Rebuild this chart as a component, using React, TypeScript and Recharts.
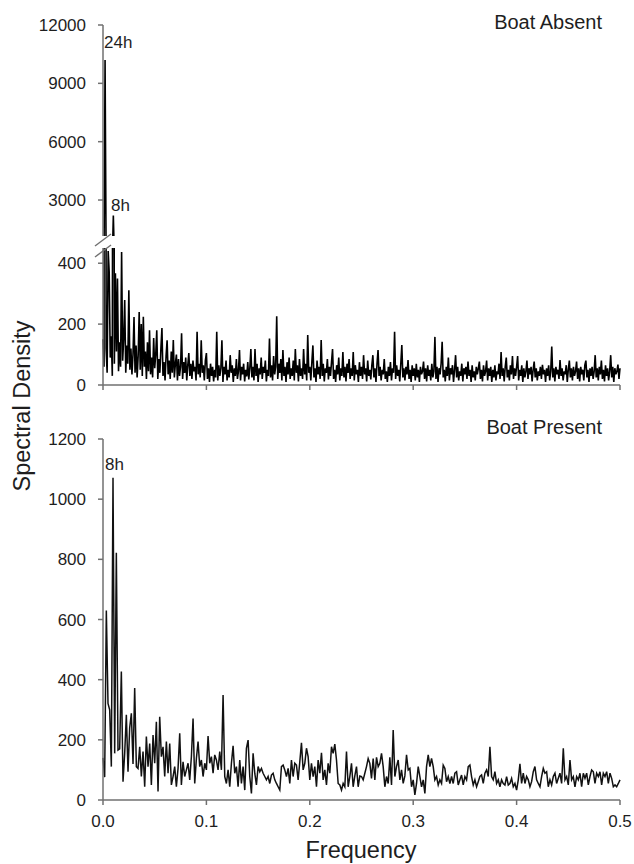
import { Line, LineChart, XAxis, YAxis } from "recharts";

// frequency grids (cycles per 5-min sample)
const ABSENT_STEP = 1 / 1000;
const PRESENT_STEP = 1 / 620;

// spectral density, boat absent
const absentDensity = [
  150, 60, 10200, 120, 40, 440, 371, 90, 160, 30, 2200, 70, 367, 110, 350, 45, 140, 60, 437, 80,
  150, 279, 40, 130, 70, 311, 50, 120, 35, 100,
  223, 40, 130, 25, 95, 240, 50, 200, 30, 224, 60, 110, 20, 140, 45, 180, 35, 90, 25, 154,
  55, 100, 180, 20, 85, 40, 120, 187, 30, 75, 15, 95, 147, 35, 80, 20, 110, 40, 148, 25,
  70, 100, 15, 85, 30, 60, 170, 20, 75, 40, 90, 15, 65, 105, 30, 70, 20, 80, 45, 60,
  15, 175, 35, 70, 25, 147, 40, 65, 15, 80,
  105, 20, 55, 10, 70, 30, 60, 12, 50, 25, 175, 15, 65, 30, 55, 147, 10, 60, 35, 80,
  15, 50, 25, 98, 40, 65, 10, 55, 30, 85, 20, 45, 115, 15, 60, 35, 70, 12, 50, 28,
  75, 18, 55, 118, 25, 60, 15, 118, 30, 70, 10, 55, 35, 90, 20, 60, 40, 80, 12, 50,
  30, 153, 25, 65, 15, 95, 35, 60, 226, 20, 70, 40, 85, 15, 115, 30, 60, 10, 75, 35,
  90, 20, 55, 30, 80, 15, 118, 40, 65, 12, 85, 30, 55, 20, 118, 35, 70, 15, 164, 40,
  60, 15, 75, 130, 25, 55, 10, 80, 35, 60, 20, 148, 30, 70, 12, 55, 40, 85, 18, 60,
  30, 75, 118, 20, 50, 10, 65, 35, 90, 15, 55, 30, 108, 25, 60, 12, 70, 40, 85, 20,
  55, 30, 108, 15, 65, 35, 50, 10, 75, 30, 60, 20, 98, 35, 55, 12, 80, 30, 50, 18,
  65, 98, 25, 55, 10, 70, 115, 30, 60, 15, 50, 35, 85, 20, 45, 10, 60, 30, 75, 15,
  55, 40, 175, 20, 65, 30, 50, 12, 70, 131, 25, 55, 15, 60, 35, 82, 20, 50, 10, 65,
  30, 55, 15, 70, 25, 50, 10, 60, 35, 45, 77, 20, 55, 12, 65, 30, 50, 15, 70, 25,
  45, 158, 20, 60, 10, 55, 35, 70, 142, 25, 50, 12, 60, 30, 90, 15, 55, 35, 65, 10,
  50, 98, 25, 60, 15, 45, 30, 70, 12, 55, 35, 60, 20, 77, 30, 50, 10, 65, 25, 45,
  15, 60, 35, 55, 77, 20, 50, 12, 65, 30, 45, 80, 15, 55, 30, 60, 10, 50, 25, 65,
  15, 45, 35, 70, 20, 108, 30, 55, 12, 60, 90, 25, 50, 15, 65, 35, 95, 20, 55, 30,
  60, 95, 15, 50, 30, 65, 10, 55, 25, 45, 80, 20, 55, 35, 60, 12, 50, 77, 25, 55,
  15, 45, 30, 60, 20, 66, 35, 50, 10, 55, 30, 65, 15, 45, 126, 25, 55, 12, 60, 35,
  50, 20, 82, 30, 55, 15, 45, 35, 65, 10, 50, 80, 25, 55, 15, 60, 30, 45, 77, 20,
  55, 12, 60, 35, 50, 15, 65, 80, 25, 50, 10, 55, 30, 60, 20, 45, 98, 25, 55, 15,
  60, 35, 80, 20, 50, 12, 65, 30, 55, 15, 45, 98, 25, 60, 10, 55, 35, 45, 67, 20,
  55,
];

// spectral density, boat present
const presentDensity = [
  140, 76, 630, 321, 300, 111, 1071, 155, 822, 166, 170, 427, 61, 155, 283, 94, 240, 288, 120, 372,
  111, 105, 177, 78, 161, 44, 211, 111, 188, 50, 216, 122, 260, 28, 277, 144, 177, 78, 194, 89,
  188, 50, 78, 111, 44, 105, 222, 50, 127, 78, 100, 122, 67, 144, 271, 55, 138, 194, 111, 133,
  78, 122, 100, 213, 122, 144, 89, 150, 133, 100, 161, 100, 349, 78, 55, 100, 44, 122, 180, 89,
  111, 44, 133, 55, 111, 33, 172, 199, 78, 22, 155, 89, 50, 111, 94, 105, 89, 78, 67, 78,
  55, 83, 89, 67, 55, 44, 33, 111, 116, 100, 78, 105, 55, 133, 78, 122, 116, 67, 127, 190,
  100, 122, 172, 144, 67, 122, 78, 111, 44, 133, 89, 157, 67, 100, 50, 122, 89, 177, 155, 186,
  133, 55, 50, 33, 55, 44, 161, 44, 78, 122, 44, 80, 111, 44, 80, 78, 67, 89, 111, 138,
  122, 72, 138, 67, 142, 111, 122, 155, 111, 44, 78, 55, 142, 50, 233, 78, 111, 133, 67, 100,
  55, 80, 150, 100, 105, 44, 67, 17, 55, 111, 78, 44, 67, 22, 111, 150, 111, 138, 111, 67,
  78, 50, 67, 55, 116, 105, 61, 78, 55, 78, 55, 89, 94, 50, 67, 83, 50, 78, 67, 111,
  116, 78, 50, 67, 44, 61, 78, 83, 55, 89, 100, 78, 177, 78, 67, 94, 55, 67, 44, 67,
  55, 50, 78, 50, 55, 72, 44, 55, 33, 67, 120, 55, 89, 55, 78, 67, 44, 61, 94, 111,
  67, 55, 44, 78, 105, 89, 94, 44, 67, 50, 78, 89, 55, 72, 89, 55, 172, 67, 78, 50,
  133, 67, 78, 44, 78, 67, 89, 44, 89, 72, 89, 50, 78, 100, 94, 55, 89, 78, 94, 50,
  89, 78, 94, 55, 89, 72, 44, 50, 44, 55, 67,
];

const freqTicks = [0, 0.1, 0.2, 0.3, 0.4, 0.5];
const absentHighTicks = [3000, 6000, 9000, 12000];
const absentLowTicks = [0, 200, 400];
const presentTicks = [0, 200, 400, 600, 800, 1000, 1200];

const absentData = absentDensity.map((v, i) => ({ f: i * ABSENT_STEP, v }));
const presentData = presentDensity.map((v, i) => ({ f: i * PRESENT_STEP, v }));

const FONT = "'Liberation Sans', Arial, Helvetica, sans-serif";
const AXIS = "#707070";
const INK = "#1e1e1e";
const tickStyle = { fill: INK, fontSize: 17, fontFamily: FONT };
const axisLine = { stroke: AXIS, strokeWidth: 1.5 };

export default function App() {
  return (
    <div style={{ position: "absolute", left: 0, top: 0, width: 634, height: 864, background: "#fff" }}>
      {/* boat absent, upper segment of the broken axis */}
      <div style={{ position: "absolute", left: 0, top: 0 }}>
        <LineChart width={634} height={240} data={absentData} margin={{ top: 25, right: 14, bottom: 4, left: 0 }}>
          <XAxis type="number" dataKey="f" domain={[0, 0.5]} hide />
          <YAxis
            type="number"
            domain={[1150, 12000]}
            ticks={absentHighTicks}
            interval={0}
            allowDataOverflow
            width={103}
            tickSize={5}
            tickMargin={12}
            tick={tickStyle}
            axisLine={axisLine}
            tickLine={axisLine}
          />
          <Line type="linear" dataKey="v" stroke="#000" strokeWidth={1.6} dot={false} isAnimationActive={false} />
        </LineChart>
      </div>

      {/* boat absent, lower segment */}
      <div style={{ position: "absolute", left: 0, top: 240 }}>
        <LineChart width={634} height={160} data={absentData} margin={{ top: 8, right: 14, bottom: 5, left: 0 }}>
          <XAxis
            type="number"
            dataKey="f"
            domain={[0, 0.5]}
            ticks={freqTicks}
            interval={0}
            height={10}
            tickSize={5}
            tickFormatter={() => ""}
            axisLine={axisLine}
            tickLine={axisLine}
          />
          <YAxis
            type="number"
            domain={[0, 450]}
            ticks={absentLowTicks}
            interval={0}
            allowDataOverflow
            width={103}
            tickSize={5}
            tickMargin={12}
            tick={tickStyle}
            axisLine={axisLine}
            tickLine={axisLine}
          />
          <Line type="linear" dataKey="v" stroke="#000" strokeWidth={1.6} dot={false} isAnimationActive={false} />
        </LineChart>
      </div>

      {/* boat present */}
      <div style={{ position: "absolute", left: 0, top: 420 }}>
        <LineChart width={634} height={424} data={presentData} margin={{ top: 19, right: 14, bottom: 14, left: 0 }}>
          <XAxis
            type="number"
            dataKey="f"
            domain={[0, 0.5]}
            ticks={freqTicks}
            interval={0}
            height={30}
            tickSize={5}
            tickMargin={10}
            tick={tickStyle}
            tickFormatter={(v: number) => v.toFixed(1)}
            axisLine={axisLine}
            tickLine={axisLine}
          />
          <YAxis
            type="number"
            domain={[0, 1200]}
            ticks={presentTicks}
            interval={0}
            width={103}
            tickSize={5}
            tickMargin={12}
            tick={tickStyle}
            axisLine={axisLine}
            tickLine={axisLine}
          />
          <Line type="linear" dataKey="v" stroke="#111" strokeWidth={1.5} dot={false} isAnimationActive={false} />
        </LineChart>
      </div>

      {/* titles, peak notes, axis titles, break marks */}
      <svg width={634} height={864} style={{ position: "absolute", left: 0, top: 0, pointerEvents: "none" }}>
        <g fontFamily={FONT} fill={INK}>
          <text x={602} y={29} fontSize={20} textAnchor="end">Boat Absent</text>
          <text x={602} y={434} fontSize={20} textAnchor="end">Boat Present</text>
          <text x={104} y={48} fontSize={17}>24h</text>
          <text x={111} y={211} fontSize={17}>8h</text>
          <text x={105} y={470} fontSize={17}>8h</text>
          <text x={30} y={406} fontSize={23.5} textAnchor="middle" transform="rotate(-90 30 406)">Spectral Density</text>
          <text x={361} y={858} fontSize={23.5} textAnchor="middle">Frequency</text>
        </g>
        <g stroke={AXIS} strokeWidth={1.4}>
          <line x1={95} y1={246} x2={111} y2={234} />
          <line x1={95} y1={257} x2={111} y2={245} />
        </g>
      </svg>
    </div>
  );
}
